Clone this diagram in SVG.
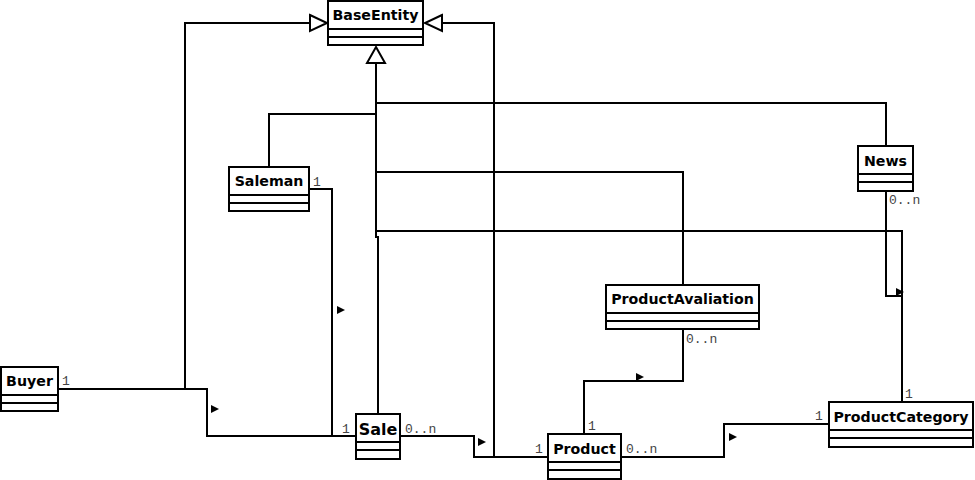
<svg xmlns="http://www.w3.org/2000/svg" width="975" height="480" viewBox="0 0 975 480">
<defs>
<style>
.box{fill:#fff;stroke:#000;stroke-width:2}
.sep{stroke:#000;stroke-width:2}
.name{font-family:"DejaVu Sans",sans-serif;font-weight:bold;font-size:14.2px;fill:#000;text-anchor:middle}
.conn{fill:none;stroke:#000;stroke-width:2}
.gen{fill:#fff;stroke:#000;stroke-width:2}
.dir{fill:#000;stroke:none}
.mult{font-family:"Liberation Mono","Courier New",monospace;font-size:13px;fill:#444}
</style>
</defs>
<rect width="975" height="480" fill="#fff"/>
<g id="connectors">
<path class="conn" d="M185,389 V23 H310"/>
<path class="conn" d="M494,457 V23 H442"/>
<path class="conn" d="M376,63 V237 H378 V414"/>
<path class="conn" d="M376,103 H886 V146"/>
<path class="conn" d="M376,114 H269 V167"/>
<path class="conn" d="M376,172 H683 V285"/>
<path class="conn" d="M376,231 H902 V402"/>
<polygon class="gen" points="310,15 327,23 310,31"/>
<polygon class="gen" points="442,15 425,23 442,31"/>
<polygon class="gen" points="376,47 385,63 367,63"/>
<path class="conn" d="M58,389 H207 V436 H356"/>
<path class="conn" d="M309,189 H332 V436"/>
<path class="conn" d="M400,436 H474 V457 H548"/>
<path class="conn" d="M584,434 V381 H683 V329"/>
<path class="conn" d="M621,457 H724 V424 H829"/>
<path class="conn" d="M886,191 V296 H902"/>
<polygon class="dir" points="211,405 219,409 211,413"/>
<polygon class="dir" points="337,306 345,310 337,314"/>
<polygon class="dir" points="478,438 486,442 478,446"/>
<polygon class="dir" points="636,373 644,377 636,381"/>
<polygon class="dir" points="729,433 737,437 729,441"/>
<polygon class="dir" points="896,288 904,292 896,296"/>
<text class="mult" x="62" y="385">1</text>
<text class="mult" x="313" y="186">1</text>
<text class="mult" x="342" y="433">1</text>
<text class="mult" x="405" y="433">0..n</text>
<text class="mult" x="535" y="453">1</text>
<text class="mult" x="588" y="430">1</text>
<text class="mult" x="626" y="453">0..n</text>
<text class="mult" x="686" y="343">0..n</text>
<text class="mult" x="905" y="398">1</text>
<text class="mult" x="815" y="420">1</text>
<text class="mult" x="889" y="204">0..n</text>
</g>
<g id="BaseEntity">
<rect class="box" x="328" y="1" width="95" height="44"/>
<line class="sep" x1="328" y1="29" x2="423" y2="29"/>
<line class="sep" x1="328" y1="37" x2="423" y2="37"/>
<text class="name" x="375.5" y="20">BaseEntity</text>
</g>
<g id="Saleman">
<rect class="box" x="229" y="167" width="80" height="44"/>
<line class="sep" x1="229" y1="195" x2="309" y2="195"/>
<line class="sep" x1="229" y1="203" x2="309" y2="203"/>
<text class="name" x="269" y="186">Saleman</text>
</g>
<g id="Buyer">
<rect class="box" x="1" y="367" width="57" height="44"/>
<line class="sep" x1="1" y1="395" x2="58" y2="395"/>
<line class="sep" x1="1" y1="403" x2="58" y2="403"/>
<text class="name" x="29.5" y="386">Buyer</text>
</g>
<g id="Sale">
<rect class="box" x="356" y="414" width="44" height="45"/>
<line class="sep" x1="356" y1="442" x2="400" y2="442"/>
<line class="sep" x1="356" y1="450" x2="400" y2="450"/>
<text class="name" x="378" y="435" style="font-size:16px">Sale</text>
</g>
<g id="Product">
<rect class="box" x="548" y="434" width="73" height="45"/>
<line class="sep" x1="548" y1="462" x2="621" y2="462"/>
<line class="sep" x1="548" y1="470" x2="621" y2="470"/>
<text class="name" x="584.5" y="454">Product</text>
</g>
<g id="ProductAvaliation">
<rect class="box" x="606" y="285" width="153" height="44"/>
<line class="sep" x1="606" y1="313" x2="759" y2="313"/>
<line class="sep" x1="606" y1="321" x2="759" y2="321"/>
<text class="name" x="682.5" y="304">ProductAvaliation</text>
</g>
<g id="ProductCategory">
<rect class="box" x="829" y="402" width="144" height="45"/>
<line class="sep" x1="829" y1="430" x2="973" y2="430"/>
<line class="sep" x1="829" y1="438" x2="973" y2="438"/>
<text class="name" x="901" y="422">ProductCategory</text>
</g>
<g id="News">
<rect class="box" x="858" y="146" width="55" height="45"/>
<line class="sep" x1="858" y1="174" x2="913" y2="174"/>
<line class="sep" x1="858" y1="182" x2="913" y2="182"/>
<text class="name" x="885.5" y="166">News</text>
</g>
</svg>
